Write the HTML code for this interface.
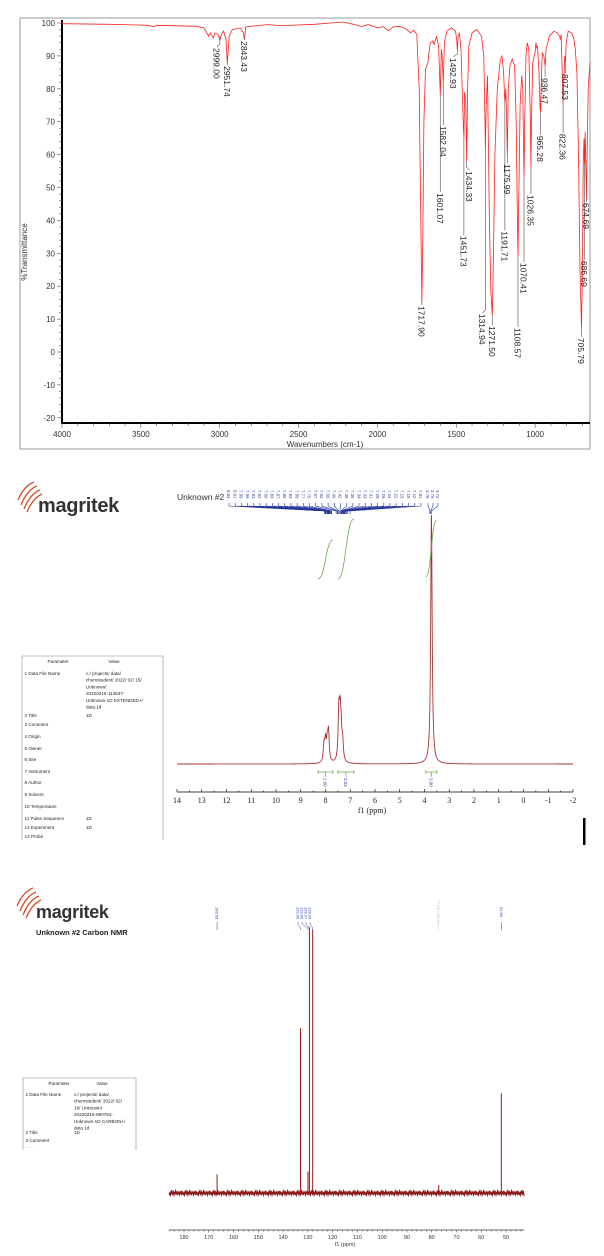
<!DOCTYPE html>
<html><head><meta charset="utf-8"><style>
html,body{margin:0;padding:0;background:#fff;width:604px;height:1256px;overflow:hidden}
svg{display:block;font-family:"Liberation Sans",sans-serif}
</style></head><body>
<svg id="root" width="604" height="1256" viewBox="0 0 604 1256" xmlns="http://www.w3.org/2000/svg">
<rect x="20" y="18" width="570" height="431" fill="none" stroke="#999" stroke-width="1"/>
<text x="0" y="0" transform="translate(27,252) rotate(-90)" font-size="8" text-anchor="middle" fill="#333">%Transmittance</text>
<text x="325" y="447" font-size="8" text-anchor="middle" fill="#333">Wavenumbers (cm-1)</text>
<g id="ir"></g>

<g>
<path d="M18 500 Q24 486 34 482 M21 505 Q27 490 37 486 M24 509 Q30 494 40 490 M27 512 Q33 498 42 494" stroke="#d0502a" stroke-width="1.3" fill="none"/>
<text x="38" y="512" font-size="20" font-weight="bold" fill="#333" letter-spacing="-0.3">magritek</text>
</g>
<text x="177" y="500" font-size="8.5" fill="#333">Unknown #2</text>
<g id="hnmr"></g>
<g id="htable"></g>
<rect x="583" y="818" width="2.5" height="27" fill="#000"/>

<g>
<path d="M17 906 Q23 892 33 888 M20 911 Q26 896 36 892 M23 915 Q29 900 39 896 M26 918 Q32 904 41 900" stroke="#d0502a" stroke-width="1.3" fill="none"/>
<text x="36" y="918" font-size="18" font-weight="bold" fill="#333" letter-spacing="-0.3">magritek</text>
</g>
<text x="36" y="935" font-size="7.5" font-weight="bold" fill="#222">Unknown #2 Carbon NMR</text>
<g id="cnmr"></g>
<g id="ctable"></g>
</svg>
<script>
const irWave=[4000,3700,3450,3420,3400,3150,3100,3070,3060,3040,3030,3010,2999,2985,2975,2960,2951.7,2940,2920,2870,2850,2843.4,2835,2700,2600,2400,2220,2150,2100,2060,2000,1960,1930,1900,1860,1820,1790,1770,1750,1735,1725,1717.9,1712,1705,1695,1680,1665,1650,1640,1625,1612,1601,1595,1590,1582,1575,1560,1530,1505,1497,1493,1488,1480,1470,1462,1456,1451.7,1447,1440,1434.3,1428,1420,1400,1370,1340,1325,1318,1314.9,1310,1302,1298,1290,1280,1271.5,1264,1255,1240,1220,1210,1200,1193,1191.7,1186,1180,1176,1170,1160,1145,1130,1120,1112,1108.6,1104,1095,1085,1078,1072,1070.4,1066,1058,1050,1040,1030,1026.4,1022,1015,1005,1000,995,990,985,975,968,965.3,962,955,945,936.5,930,910,880,860,845,840,835,825,822.4,818,812,807.5,803,790,770,755,745,735,725,715,705.8,700,695,690,686.7,682,678,674.7,670,663,652];
const irTrans=[99.8,99.6,99.3,98.8,99.3,99,98.5,96,97,95.5,97,96.5,94.8,97,97.5,95,87.8,96,98,98.5,97,95,98.8,99.5,99.2,99.6,100.3,99.6,98.9,99.5,98.6,98.8,97.6,98.8,99,98.2,97,97.8,96.5,80,40,15,35,70,86,88,94,94.5,93.5,96,93,78,92,90,82,94,97.5,98.5,97.5,95,91.5,96,97,92,80,70,65,79,77,58,80,93,97,98,96,90,70,62,75,84,70,40,18,11,30,60,80,89,90,85,77,76,80,70,60,80,87,89,87,70,40,29,45,75,84,80,58,53,70,90,94,92,70,56,72,88,90,91,94,92.5,93,85,74,73,80,91,90,87,92,96,97.5,97,96,95,96.5,80,75.5,82,90,88,94,97.5,97,95.5,92,85,60,25,7,25,57,65,57,67,55,46,60,80,88];
const irLabelWave=[2999.00,2951.74,2843.43,1717.90,1601.07,1582.04,1492.93,1451.73,1434.33,1314.94,1271.50,1191.71,1175.99,1108.57,1070.41,1026.35,965.28,936.47,822.36,807.53,705.79,686.69,674.69];
const irLabelText=["2999.00","2951.74","2843.43","1717.90","1601.07","1582.04","1492.93","1451.73","1434.33","1314.94","1271.50","1191.71","1175.99","1108.57","1070.41","1026.35","965.28","936.47","822.36","807.53","705.79","686.69","674.69"];
const irPeakT=[96,87.8,95,15,78,82,91.5,65,58,62,11,76,60,29,53,56,73,87,75.5,88,7,57,46];
const irLabelT=[92.7,87.2,94.8,14.3,48.6,69,89.7,35.6,55.3,11.9,8.2,37,57.4,7.6,27.4,48,66,83.6,66.6,84.8,4.6,28,45.6];
const irLabelShift=[-3,0,0,0,0,0,-4,0,3,-3,0,0,0,0,0,0,0,0,0,0,0,0,0];
const irYTicks=[100,90,80,70,60,50,40,30,20,10,0,-10,-20];
const irXTicks=[4000,3500,3000,2500,2000,1500,1000];

const hPeakPpm=[8.06,8.00,7.93,7.88,7.46,7.41,7.37,7.31,3.72];
const hPeakInt=[0.068,0.08,0.07,0.115,0.19,0.16,0.1,0.075,1.0];
const hIntegralFrom=[8.3,7.5,3.95];
const hIntegralTo=[7.7,6.85,3.5];
const hIntegralText=["2.00","3.03","3.00"];
const hIntegralBottom=[579,579,577];
const hIntegralTop=[540,519,520];
const hShiftLabels=["8.04","8.01","7.99","7.96","7.93","7.92","7.90","7.89","7.87","7.85","7.83","7.80","7.77","7.75","7.57","7.52","7.50","7.46","7.42","7.38","7.36","7.34","7.33","7.31","7.28","7.26","7.24","7.22","7.19","7.15","7.12","7.01","3.78","3.76","3.72"];
const hXTicks=[14,13,12,11,10,9,8,7,6,5,4,3,2,1,0,-1,-2];

const cPeakPpm=[166.65,132.96,129.95,129.37,128.05,77.16,51.89];
const cPeakInt=[0.07,0.62,0.08,1.0,0.99,0.03,0.375];
const cLabelText=["166.65","132.96","129.95","129.37","128.05","77.16 CDCl3","51.89"];
const cXTicks=[180,170,160,150,140,130,120,110,100,90,80,70,60,50];
const cNoise=[0,2,-1,3,-2,1,-3,2,0,-2,3,-1,1,-3,2,-1,0,2,-2,1,-1,3,-2,0,1,-2,2,-1];

const NS="http://www.w3.org/2000/svg";
function mk(tag,attrs,parent){const e=document.createElementNS(NS,tag);for(const k in attrs)e.setAttribute(k,attrs[k]);parent.appendChild(e);return e;}

(function(){
const g=document.getElementById('ir');
const X=w=>62+(4000-w)*0.1577;
const Y=t=>23+(100-t)*3.29;
let a=mk('line',{x1:62,y1:20,x2:62,y2:423,stroke:'#000','stroke-width':2},g);


a=mk('line',{x1:61,y1:423,x2:590,y2:423,stroke:'#000','stroke-width':2},g);


for(let t=-20;t<=100;t+=2){const l=mk('line',{x1:(t%10===0?57:59),y1:Y(t),x2:62,y2:Y(t),stroke:'#555','stroke-width':0.6},g);

}
irYTicks.forEach(t=>{const e=mk('text',{x:55,y:Y(t)+3,'font-size':8,'text-anchor':'end',fill:'#333'},g);e.textContent=t;

});
for(let w=4000;w>=660;w-=100){const l=mk('line',{x1:X(w),y1:423,x2:X(w),y2:(w%500===0?428:426),stroke:'#555','stroke-width':0.6},g);

}
irXTicks.forEach(w=>{const e=mk('text',{x:X(w),y:437,'font-size':8,'text-anchor':'middle',fill:'#333'},g);e.textContent=w;

});
const pts=irWave.map((w,i)=>X(w).toFixed(1)+','+Y(irTrans[i]).toFixed(1)).join(' ');
const pl=mk('polyline',{points:pts,fill:'none',stroke:'#ff2020','stroke-width':0.8},g);


irLabelWave.forEach((w,i)=>{
 const px=X(w),lx=px+irLabelShift[i],py=Y(irPeakT[i]),ly=Y(irLabelT[i]);
 const c=mk('polyline',{points:`${px},${py} ${px},${ly-3} ${lx},${ly}`,fill:'none',stroke:'#666','stroke-width':0.7},g);
 
 
 const t=mk('text',{x:lx-3.5,y:ly+1,'font-size':8.5,fill:'#222',transform:`rotate(90 ${lx-3.5} ${ly+1})`},g);
 t.textContent=irLabelText[i];
 
 
});
})();

(function(){
const g=document.getElementById('hnmr');
const X=p=>177+(14-p)*24.75;
const base=764, full=249;
let a=mk('line',{x1:177,y1:792,x2:573,y2:792,stroke:'#000','stroke-width':0.8},g);


for(let p=14;p>=-2.01;p-=0.5){const l=mk('line',{x1:X(p),y1:792,x2:X(p),y2:(Math.abs(p%1)<0.01?789:790.5),stroke:'#000','stroke-width':0.6},g);

}
hXTicks.forEach(p=>{const e=mk('text',{x:X(p),y:803,'font-size':8,'text-anchor':'middle',fill:'#222','font-family':'Liberation Serif, serif'},g);e.textContent=p;

});
const ax=mk('text',{x:372,y:813,'font-size':8,'text-anchor':'middle',fill:'#222','font-family':'Liberation Serif, serif'},g);ax.textContent='f1 (ppm)';


let pts=[];const gam=0.035;
for(let p=14;p>=-2;p-=0.004){let s=0;hPeakPpm.forEach((c,i)=>{const d=(p-c)/gam;s+=hPeakInt[i]/(1+d*d);});pts.push(X(p).toFixed(2)+','+(base-s*full).toFixed(2));}
const pl=mk('polyline',{points:pts.join(' '),fill:'none',stroke:'#a83232','stroke-width':0.9},g);


hIntegralFrom.forEach((f,i)=>{
 const x1=X(f),x2=X(hIntegralTo[i]),y1=hIntegralBottom[i],y2=hIntegralTop[i],mx=(x1+x2)/2;
 const c=mk('path',{d:`M${x1} ${y1} C${mx} ${y1} ${mx} ${y2} ${x2} ${y2}`,fill:'none',stroke:'#6aa84f','stroke-width':0.8},g);
 
 
 const b=mk('path',{d:`M${x1} 770 V774 M${x1} 772 H${x2} M${x2} 770 V774 M${mx} 772 V777`,stroke:'#6aa84f','stroke-width':0.7,fill:'none'},g);
 
 
 const t=mk('text',{x:mx-2,y:778,'font-size':4.5,fill:'#3344aa',transform:`rotate(90 ${mx-2} 778)`},g);t.textContent=hIntegralText[i];
 
 
});
hShiftLabels.forEach((s,i)=>{
 const lx=i<32?229+i*(192/31):428+(i-32)*5;
 const px=X(parseFloat(s));
 const t=mk('text',{x:lx-1.8,y:490,'font-size':4.3,fill:'#3344aa',transform:`rotate(90 ${lx-1.8} 490)`},g);t.textContent=s;
 
 
 const l=mk('polyline',{points:`${lx},503 ${lx},506 ${px},511 ${px},514`,fill:'none',stroke:'#22339a','stroke-width':0.6},g);
 
 
});
})();

function table(id,x,y,w,h,valX,rows){
 const g=document.getElementById(id);
 const r=mk('path',{d:`M${x} ${y+h} V${y} H${x+w} V${y+h}`,fill:'none',stroke:'#aaa','stroke-width':0.8},g);
 
 
 let e=mk('text',{x:x+36,y:y+7,'font-size':4.5,'text-anchor':'middle',fill:'#222'},g);e.textContent='Parameter';
 
 
 e=mk('text',{x:valX+28,y:y+7,'font-size':4.5,'text-anchor':'middle',fill:'#222'},g);e.textContent='Value';
 
 
 rows.forEach(rw=>{
  const t=mk('text',{x:x+2.5,y:rw[0],'font-size':4.6,fill:'#222'},g);t.textContent=rw[1];
  
  
  (rw[2]||[]).forEach((v,j)=>{const vt=mk('text',{x:valX,y:rw[0]+j*6.7,'font-size':4.6,fill:'#222'},g);vt.textContent=v;
  
  });
 });
}
table('htable',22,656,141,184,86,[[675,'1  Data File Name',['c:/ projects/ data/','chemstudent/ 2022/ 02/ 15/','Unknown/','20220215-114547-','Unknown-1D EXTENDED+/','data.1d']],[717,'2  Title',['1D']],[726,'3  Comment'],[738,'4  Origin'],[750,'5  Owner'],[761,'6  Site'],[773,'7  Instrument'],[784,'8  Author'],[796,'9  Solvent'],[808,'10 Temperature'],[820,'11 Pulse Sequence',['1D']],[829,'12 Experiment',['1D']],[838,'13 Probe']]);
table('ctable',23,1078,113,72,74,[[1096,'1  Data File Name',['c:/ projects/ data/','chemstudent/ 2022/ 02/','16/ Unknown/','20220216-080753-','Unknown-1D CARBON+/','data.1d']],[1134,'2  Title',['1D']],[1142,'3  Comment'],[1149,'\u00b7  \u00b7 \u00b7']]);

(function(){
const g=document.getElementById('cnmr');
const X=p=>184+(180-p)*2.477;
const base=1193, full=266;
let a=mk('line',{x1:169,y1:1230,x2:524,y2:1230,stroke:'#333','stroke-width':0.8},g);


for(let p=186;p>=43;p-=2){const l=mk('line',{x1:X(p),y1:1230,x2:X(p),y2:(p%10===0?1232.5:1231.5),stroke:'#333','stroke-width':0.5},g);

}
cXTicks.forEach(p=>{const e=mk('text',{x:X(p),y:1239,'font-size':5.5,'text-anchor':'middle',fill:'#333'},g);e.textContent=p;

});
const ax=mk('text',{x:345,y:1246,'font-size':5.5,'text-anchor':'middle',fill:'#333'},g);ax.textContent='f1 (ppm)';


let pts=[];let k=0;
for(let x=169;x<=524;x+=0.5){pts.push(x.toFixed(1)+','+(base+cNoise[k%cNoise.length]*1.1).toFixed(1));k++;}
const nz=mk('polyline',{points:pts.join(' '),fill:'none',stroke:'#8b1a1a','stroke-width':0.9},g);


cPeakPpm.forEach((p,i)=>{
 const x=X(p);
 const l=mk('line',{x1:x,y1:base+2,x2:x,y2:base-cPeakInt[i]*full,stroke:'#a01818','stroke-width':1},g);
 
 
});
const lx=[X(166.65),298,302,306,310,X(77.16),X(51.89)];
cPeakPpm.forEach((p,i)=>{
 const grey=i===5;
 const t=mk('text',{x:lx[i]-1.5,y:(grey?900:907),'font-size':4,fill:grey?'#bbb':'#3344aa',transform:`rotate(90 ${lx[i]-1.5} ${grey?900:907})`},g);
 t.textContent=cLabelText[i];
 
 
 const c=mk('polyline',{points:`${lx[i]},922 ${lx[i]},924 ${X(p)},928 ${X(p)},930`,fill:'none',stroke:grey?'#ccc':'#3344aa','stroke-width':0.5},g);
 
 
});
})();
</script>
</body></html>
